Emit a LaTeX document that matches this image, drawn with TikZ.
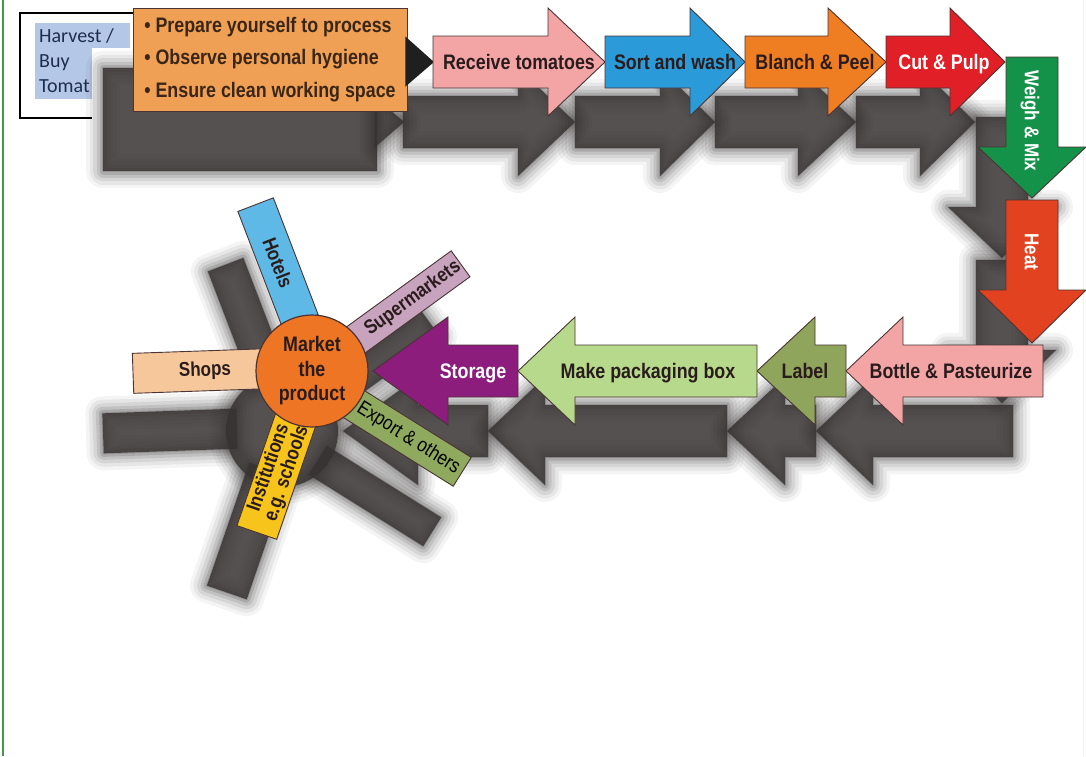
\documentclass[tikz,border=0pt]{standalone}
\usepackage{fontspec}
\setmainfont{Liberation Sans}
\newfontfamily\cond[FakeStretch=0.85]{Liberation Sans}
\newfontfamily\carl{Carlito}
\usetikzlibrary{calc}

\definecolor{shadowc}{HTML}{383333}
\definecolor{orangebox}{HTML}{F0A055}
\definecolor{pinkc}{HTML}{F3A5A6}
\definecolor{bluec}{HTML}{2A9AD8}
\definecolor{orangec}{HTML}{EF7E23}
\definecolor{redc}{HTML}{E01F27}
\definecolor{greenc}{HTML}{15924A}
\definecolor{heatc}{HTML}{E2421F}
\definecolor{olivec}{HTML}{8FA55B}
\definecolor{lgreenc}{HTML}{B7D98B}
\definecolor{purplec}{HTML}{8C1D7D}
\definecolor{circc}{HTML}{EE7524}
\definecolor{hotelc}{HTML}{5EB9E7}
\definecolor{superc}{HTML}{C8A3BE}
\definecolor{shopc}{HTML}{F6C79B}
\definecolor{instc}{HTML}{F7C41B}
\definecolor{exportc}{HTML}{8FAA5F}
\definecolor{edgec}{HTML}{4A3434}
\definecolor{txtdark}{HTML}{2A1C1C}
\definecolor{hlblue}{HTML}{B4C7E7}
\definecolor{navy}{HTML}{1F2D4D}
\definecolor{frameg}{HTML}{3E9A4C}

% arrow outlines: tail, head base, tip, centre line
\newcommand\rpath[4]{(#1,#4-26) -- (#2,#4-26) -- (#2,#4-54) -- (#3,#4) -- (#2,#4+54) -- (#2,#4+26) -- (#1,#4+26) -- cycle}
\newcommand\dpath[4]{(#4-26,#1) -- (#4-26,#2) -- (#4-54,#2) -- (#4,#3) -- (#4+54,#2) -- (#4+26,#2) -- (#4+26,#1) -- cycle}

\newcommand\shadowpath[2]{%
  \begin{scope}[shift={(-30,60)},#1]
    \foreach \w/\o in {34/0.05,27/0.07,20/0.09,13/0.12,7/0.16,2/0.2}{%
      \draw[shadowc, line width=\w pt, opacity=\o, line join=round] #2;}
    \fill[shadowc, opacity=0.85] #2;
  \end{scope}}

\begin{document}
\begin{tikzpicture}[x=1pt,y=-1pt,
  arr/.style={draw=edgec, line width=0.9pt, line join=miter},
  lbl/.style={font=\cond\bfseries\fontsize{21}{24}\selectfont, text=txtdark, inner sep=0pt, text height=15pt, text depth=0pt},
  wlbl/.style={lbl, text=white},
  vlbl/.style={font=\cond\bfseries\fontsize{20}{24}\selectfont, text=white, inner sep=0pt, text height=14.5pt, text depth=0pt, rotate=-90},
  spoke/.style={draw=edgec, line width=0.9pt, rectangle, inner sep=0pt, align=center,
    font=\cond\bfseries\fontsize{20}{19}\selectfont, text=txtdark},
  harv/.style={font=\carl\fontsize{20}{25}\selectfont, text=navy, inner sep=0pt, align=left},
  obox/.style={draw=edgec, line width=0.9pt, fill=orangebox, inner sep=0pt,
    minimum width=274pt, minimum height=103pt, align=left,
    font=\cond\bfseries\fontsize{21}{32.5}\selectfont, text={rgb,255:red,58;green,38;blue,22}},
]
\useasboundingbox (0,0) rectangle (1086,756);
\fill[white] (0,0) rectangle (1086,756);
\draw[frameg, line width=1.5pt] (3,0) -- (3,756);
\draw[black!6, line width=1pt] (1083,0) -- (1083,756);

% Harvest / Buy Tomat box (its right part lies under the next box and its shadow)
\draw[black, line width=1.4pt] (134,13) -- (20,13) -- (20,118) -- (92,118);
\fill[hlblue] (35,23) rectangle (130,48);
\fill[hlblue] (35,48) rectangle (92,99);
\node[harv, anchor=north west] (harvest) at (39,28) {Harvest /\\Buy\\Tomat};

% ---------- shadows ----------
\shadowpath{}{(133,8) rectangle (407,111)}
\shadowpath{}{(405,37) -- (434,62) -- (405,87) -- cycle}
\shadowpath{}{\rpath{433}{548}{605}{62}}
\shadowpath{}{\rpath{605}{690}{745}{62}}
\shadowpath{}{\rpath{745}{828}{886}{62}}
\shadowpath{}{\rpath{886}{950}{1005}{62}}
\shadowpath{}{\dpath{57}{147}{198}{1032}}
\shadowpath{}{\dpath{200}{290}{343}{1032}}
\shadowpath{}{\rpath{1043}{903}{846}{371}}
\shadowpath{}{\rpath{846}{815}{757}{371}}
\shadowpath{}{\rpath{757}{575}{518}{371}}
\shadowpath{}{\rpath{518}{448}{373}{371}}
\shadowpath{shift={(278,263)},rotate=-69}{(-62.5,-19) rectangle (62.5,19)}
\shadowpath{shift={(408,302)},rotate=36}{(-65,-16) rectangle (65,16)}
\shadowpath{shift={(405,436)},rotate=-32}{(-67.5,-17) rectangle (67.5,17)}
\shadowpath{shift={(278,471)},rotate=71}{(-65,-21) rectangle (65,21)}
\shadowpath{shift={(200,371)},rotate=2}{(-67,-20) rectangle (67,20)}
\shadowpath{}{(312,371) circle[radius=56]}

% ---------- first step box ----------
\node[obox] (ob) at (270,59.5) {• Prepare yourself to process\\• Observe personal hygiene\\• Ensure clean working space};
\coordinate (bk1) at ($(ob.north east)+(-2,29)$);
\coordinate (bk2) at ($(ob.north east)+(-2,79)$);
\coordinate (bktip) at (434,62);
\fill[black!88] (bk1) -- (bktip) -- (bk2) -- cycle;

% ---------- top row ----------
\draw[arr, fill=pinkc] \rpath{433}{548}{605}{62};
\node[lbl] (recv) at (519,62) {Receive tomatoes};
\draw[arr, fill=bluec] \rpath{605}{690}{745}{62};
\node[lbl] (sort) at (675,62) {Sort and wash};
\draw[arr, fill=orangec] \rpath{745}{828}{886}{62};
\node[lbl] (blanch) at (815,62) {Blanch \& Peel};
\draw[arr, fill=redc] \rpath{886}{950}{1005}{62};
\node[wlbl] (cut) at (944,62) {Cut \& Pulp};

% ---------- right column ----------
\draw[arr, fill=heatc] \dpath{200}{290}{343}{1032};
\node[vlbl] (heat) at (1032,252) {Heat};
\draw[arr, fill=greenc] \dpath{57}{147}{198}{1032};
\node[vlbl] (weigh) at (1032,121) {Weigh \& Mix};

% ---------- bottom row ----------
\draw[arr, fill=pinkc] \rpath{1043}{903}{846}{371};
\node[lbl] (bottle) at (951,371) {Bottle \& Pasteurize};
\draw[arr, fill=olivec] \rpath{846}{815}{757}{371};
\node[lbl] (label) at (805,371) {Label};
\draw[arr, fill=lgreenc] \rpath{757}{575}{518}{371};
\node[lbl] (pack) at (648,371) {Make packaging box};

% ---------- market spokes ----------
\node[spoke, fill=hotelc, minimum width=125pt, minimum height=38pt, rotate=-69] (hotels) at (278,263) {Hotels};
\node[spoke, fill=superc, minimum width=130pt, minimum height=32pt, rotate=36] (super) at (408,302) {\hspace*{12pt}Supermarkets};
\node[spoke, fill=exportc, minimum width=135pt, minimum height=34pt, rotate=-32,
  font=\cond\fontsize{20}{22}\selectfont, text=black] (export) at (405,436) {\hspace*{8pt}Export \& others};
\node[spoke, fill=instc, minimum width=130pt, minimum height=42pt, rotate=71] (inst) at (278,471) {Institutions\\e.g. schools};
\node[spoke, fill=shopc, minimum width=134pt, minimum height=40pt, rotate=2] (shops) at (200,371) {\hspace*{10pt}Shops};

\node[circle, draw=edgec, line width=1.2pt, fill=circc, minimum size=112pt, inner sep=0pt,
  align=center, font=\cond\bfseries\fontsize{21}{24.5}\selectfont, text=txtdark] (mkt) at (312,371) {Market\\the\\product};

\draw[arr, fill=purplec] \rpath{518}{448}{373}{371};
\node[wlbl] (storage) at (473,371) {Storage};
\end{tikzpicture}
\end{document}
